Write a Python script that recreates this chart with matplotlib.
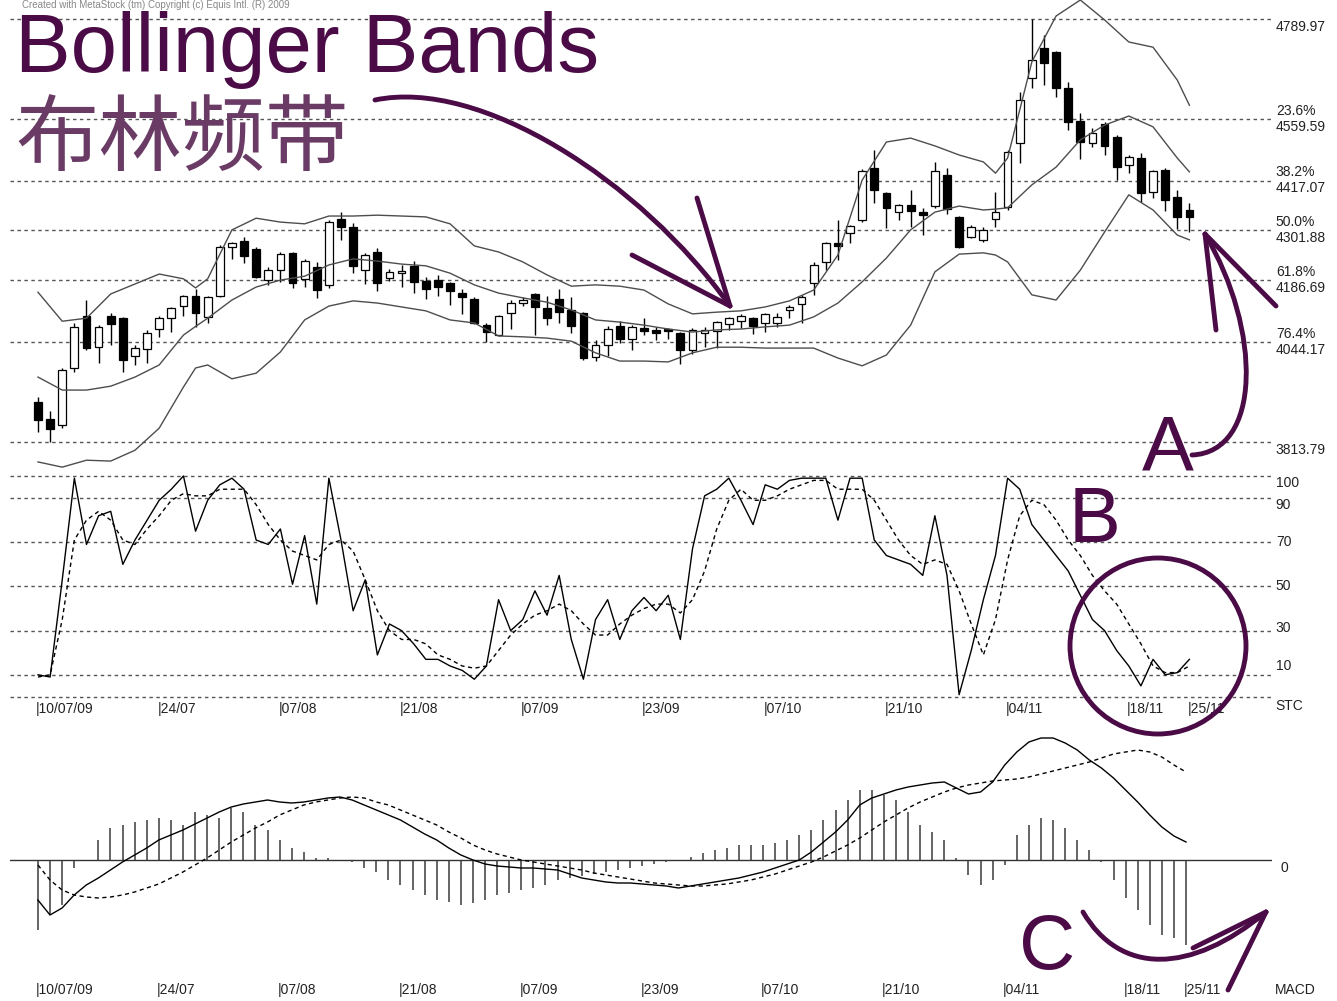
import numpy as np
import matplotlib
matplotlib.use("Agg")
from matplotlib import pyplot as plt
from matplotlib.path import Path
from matplotlib.patches import PathPatch, Circle

# ---- daily candles, 10/07/09 .. 26/11/09 (index points) ----
opens = [3905, 3866, 3852, 3984, 4104, 4033, 4104, 4099, 4012, 4028,
         4074, 4099, 4127, 4150, 4102, 4150, 4263, 4277, 4259, 4187,
         4210, 4250, 4190, 4217, 4176, 4328, 4310, 4210, 4252, 4192,
         4203, 4220, 4185, 4187, 4180, 4157, 4143, 4083, 4060, 4111,
         4134, 4155, 4122, 4143, 4118, 4111, 4009, 4037, 4081, 4051,
         4076, 4072, 4074, 4065, 4026, 4065, 4069, 4086, 4092, 4099,
         4088, 4088, 4118, 4132, 4180, 4229, 4273, 4296, 4326, 4446,
         4388, 4344, 4360, 4344, 4358, 4430, 4333, 4287, 4280, 4328,
         4356, 4504, 4654, 4723, 4714, 4631, 4555, 4504, 4548, 4518,
         4452, 4469, 4390, 4441, 4379, 4349]
highs = [3917, 3885, 3984, 4088, 4141, 4083, 4111, 4102, 4037, 4072,
         4104, 4125, 4153, 4166, 4150, 4268, 4275, 4286, 4263, 4217,
         4252, 4252, 4236, 4229, 4326, 4344, 4319, 4250, 4261, 4213,
         4222, 4231, 4194, 4199, 4182, 4166, 4148, 4088, 4106, 4141,
         4148, 4157, 4150, 4166, 4148, 4113, 4049, 4081, 4092, 4083,
         4099, 4079, 4076, 4067, 4076, 4079, 4092, 4102, 4109, 4102,
         4111, 4111, 4129, 4153, 4229, 4275, 4326, 4314, 4444, 4488,
         4390, 4363, 4395, 4354, 4460, 4446, 4335, 4314, 4310, 4390,
         4488, 4621, 4790, 4753, 4716, 4645, 4573, 4538, 4552, 4522,
         4476, 4480, 4441, 4446, 4395, 4365]
lows = [3836, 3813, 3845, 3975, 4026, 3995, 4037, 3975, 3991, 3995,
        4056, 4067, 4104, 4079, 4088, 4148, 4235, 4226, 4192, 4176,
        4183, 4169, 4171, 4146, 4169, 4280, 4203, 4178, 4162, 4185,
        4171, 4157, 4143, 4150, 4129, 4109, 4086, 4044, 4058, 4074,
        4127, 4060, 4083, 4088, 4065, 4003, 4000, 4012, 4042, 4026,
        4060, 4049, 4051, 3993, 4016, 4032, 4030, 4072, 4076, 4063,
        4067, 4079, 4099, 4088, 4153, 4210, 4233, 4273, 4321, 4365,
        4307, 4326, 4310, 4291, 4354, 4340, 4261, 4284, 4275, 4310,
        4349, 4458, 4631, 4638, 4610, 4534, 4466, 4495, 4476, 4418,
        4434, 4367, 4377, 4347, 4305, 4298]
closes = [3864, 3843, 3979, 4079, 4030, 4079, 4086, 4003, 4030, 4065,
          4099, 4122, 4150, 4111, 4148, 4263, 4273, 4243, 4194, 4210,
          4247, 4180, 4231, 4164, 4321, 4310, 4220, 4245, 4180, 4206,
          4208, 4183, 4166, 4171, 4162, 4148, 4088, 4067, 4104, 4134,
          4141, 4125, 4099, 4113, 4081, 4007, 4037, 4074, 4051, 4079,
          4069, 4065, 4069, 4026, 4072, 4072, 4090, 4099, 4104, 4081,
          4109, 4102, 4125, 4148, 4222, 4273, 4266, 4312, 4439, 4395,
          4354, 4360, 4347, 4337, 4439, 4351, 4263, 4310, 4303, 4344,
          4483, 4603, 4695, 4688, 4631, 4552, 4506, 4527, 4497, 4448,
          4471, 4388, 4439, 4372, 4333, 4333]

# ---- Bollinger bands read at these candle indices ----
band_idx = [0, 2, 4, 6, 8, 10, 12, 13, 14, 16, 18, 20, 22, 24, 26, 28, 30,
            32, 34, 36, 38, 40, 42, 44, 46, 48, 50, 52, 54, 56, 58, 60, 62,
            64, 66, 68, 70, 72, 74, 76, 78, 79, 80, 82, 84, 86, 88, 90, 92,
            94, 95]
band_upper = [4159, 4092, 4099, 4155, 4178, 4201, 4190, 4169, 4190, 4303,
              4330, 4321, 4317, 4335, 4335, 4337, 4335, 4333, 4317, 4266,
              4252, 4229, 4199, 4173, 4176, 4173, 4164, 4132, 4109, 4113,
              4116, 4125, 4139, 4164, 4245, 4418, 4506, 4515, 4497, 4476,
              4460, 4434, 4469, 4691, 4797, 4834, 4788, 4737, 4725, 4649,
              4591]
band_mid = [3963, 3933, 3933, 3942, 3963, 3991, 4060, 4080, 4099, 4141,
            4171, 4187, 4196, 4222, 4236, 4231, 4224, 4220, 4203, 4176,
            4157, 4146, 4136, 4118, 4095, 4090, 4083, 4074, 4067, 4072,
            4074, 4079, 4083, 4102, 4134, 4183, 4238, 4303, 4344, 4358,
            4349, 4351, 4354, 4407, 4448, 4511, 4545, 4566, 4541, 4469,
            4437]
band_lower = [3767, 3755, 3771, 3769, 3794, 3845, 3940, 3984, 3991, 3959,
              3972, 4021, 4095, 4127, 4139, 4134, 4125, 4116, 4095, 4088,
              4058, 4056, 4053, 4046, 4019, 4000, 4000, 3998, 4019, 4032,
              4032, 4030, 4030, 4030, 4007, 3989, 4014, 4083, 4206, 4247,
              4250, 4245, 4229, 4153, 4141, 4210, 4298, 4384, 4349, 4291,
              4280]

# ---- Fibonacci retracement levels (high 4789.97, low 3813.79) ----
fib_pct = ["", "23.6%", "38.2%", "50.0%", "61.8%", "76.4%", ""]
fib_val = [4789.97, 4559.59, 4417.07, 4301.88, 4186.69, 4044.17, 3813.79]

# ---- Stochastic (STC) ----
stc_k = [10, 9, 53, 99, 69, 82, 84, 60, 71, 80, 89, 94, 100, 75, 89, 96,
         99, 94, 71, 69, 76, 51, 73, 42, 99, 71, 39, 53, 19, 33, 30, 24,
         17, 17, 14, 12, 8, 14, 44, 30, 35, 48, 37, 55, 26, 8, 35, 44, 26,
         39, 45, 39, 46, 26, 67, 91, 94, 99, 89, 78, 96, 94, 98, 99, 99,
         99, 80, 99, 99, 71, 64, 62, 60, 55, 82, 55, 1, 21, 44, 64, 99, 94,
         78, 71, 64, 57, 46, 35, 30, 21, 14, 5, 17, 10, 11, 17]
stc_d = [9, 10, 35, 71, 80, 84, 80, 71, 69, 76, 82, 89, 92, 91, 91, 94,
         94, 94, 87, 78, 71, 66, 64, 62, 69, 71, 66, 53, 39, 30, 26, 26,
         24, 19, 17, 14, 13, 14, 21, 28, 33, 37, 39, 42, 39, 33, 28, 28,
         33, 37, 40, 42, 42, 38, 44, 57, 76, 89, 94, 89, 89, 91, 94, 96,
         98, 98, 94, 94, 94, 89, 80, 71, 64, 60, 62, 60, 48, 33, 19, 35,
         62, 82, 89, 87, 80, 71, 64, 55, 48, 42, 33, 24, 14, 11, 11, 14]
stc_ticks = [100, 90, 70, 50, 30, 10]

# ---- MACD ----
macd = [-40, -55, -48, -35, -25, -18, -10, -2, 5, 12, 20, 25, 30, 36, 42,
        48, 53, 56, 58, 60, 58, 57, 58, 60, 62, 63, 60, 55, 50, 45, 40, 33,
        26, 20, 12, 5, 0, -4, -6, -7, -8, -8, -9, -10, -14, -18, -20, -22,
        -23, -23, -24, -25, -26, -28, -26, -24, -22, -20, -18, -15, -12, -8,
        -4, 0, 8, 18, 28, 40, 55, 62, 66, 70, 73, 75, 77, 78, 72, 66, 68,
        78, 95, 108, 118, 122, 122, 117, 110, 100, 92, 82, 70, 58, 45, 33,
        24, 18]
macd_sig = [-5, -20, -30, -35, -37, -38, -37, -35, -32, -28, -24, -18, -12,
            -5, 2, 10, 18, 25, 32, 38, 45, 50, 55, 58, 60, 62, 63, 62, 58, 55,
            50, 45, 40, 35, 28, 22, 15, 10, 6, 3, 0, -2, -4, -6, -8, -10, -13,
            -15, -17, -19, -21, -23, -24, -25, -26, -26, -25, -24, -22, -20,
            -17, -14, -10, -6, -2, 3, 9, 15, 22, 30, 38, 45, 52, 58, 63, 68,
            72, 75, 77, 79, 80, 81, 83, 86, 89, 92, 95, 98, 102, 106, 108,
            110, 108, 103, 95, 88]
macd_hist = [-70, -55, -45, -8, 0, 20, 32, 35, 38, 40, 42, 40, 35, 48, 45,
             42, 52, 48, 35, 30, 20, 12, 8, 2, 2, 0, -2, -8, -12, -20, -25,
             -30, -35, -40, -42, -45, -43, -40, -35, -33, -30, -28, -25, -20,
             -18, -16, -14, -12, -10, -8, -6, -4, -2, 0, 3, 7, 10, 12, 15, 15,
             15, 17, 20, 25, 30, 40, 50, 60, 70, 70, 65, 60, 48, 35, 28, 20,
             2, -15, -25, -20, -5, 25, 35, 42, 40, 32, 20, 10, -2, -20, -38,
             -50, -65, -75, -78, -85]

date_idx = [0, 10, 20, 30, 40, 50, 60, 70, 80, 90, 95]
date_lbl = ["10/07/09", "24/07", "07/08", "21/08", "07/09", "23/09",
            "07/10", "21/10", "04/11", "18/11", "25/11"]

W, H = 1337, 1001
fig = plt.figure(figsize=(W / 100, H / 100), dpi=100)
fig.patch.set_facecolor("white")

small = dict(family=["Liberation Sans Narrow", "Liberation Sans", "DejaVu Sans"],
             fontsize=10, color="#222222")
grid_kw = dict(color="#555555", lw=1.0, ls=(0, (2.5, 2.5)))
purple = "#4a0b46"

x0_px, x1_px = 10, 1272
step = 12.12
xl = ((x0_px - 38) / step, (x1_px - 38) / step)


def axes_px(top, bottom):
    return fig.add_axes([x0_px / W, 1 - bottom / H, (x1_px - x0_px) / W,
                         (bottom - top) / H])


def clean(ax):
    for s in ax.spines.values():
        s.set_visible(False)
    ax.set_xticks([])
    ax.set_yticks([])
    ax.set_facecolor("none")
    ax.set_xlim(*xl)


n = len(closes)
xs = np.arange(n)

# ---------- price panel ----------
ax1 = axes_px(0, 468)
clean(ax1)
ax1.set_ylim(3753, 4834)
for v in fib_val:
    ax1.axhline(v, **grid_kw, zorder=0)
ax1.vlines(xs, lows, highs, color="black", lw=1.0, zorder=2)
o = np.array(opens, float)
c = np.array(closes, float)
body = c - o
tiny = np.abs(body) < 2
body[tiny] = np.where(body[tiny] >= 0, 2, -2)
cols = ["white" if cc >= oo else "black" for oo, cc in zip(o, c)]
ax1.bar(xs, body, bottom=o, width=0.64, color=cols, edgecolor="black",
        lw=0.9, zorder=3)
for band in (band_upper, band_mid, band_lower):
    ax1.plot(band_idx, band, color="#4d4d4d", lw=1.0, zorder=4)
ytr = ax1.get_yaxis_transform()
for p, v in zip(fib_pct, fib_val):
    if p:
        ax1.text(1.003, v + 3, p, transform=ytr, va="bottom", ha="left", **small)
    ax1.text(1.003, v - 2, f"{v:.2f}", transform=ytr, va="top", ha="left", **small)

# ---------- STC panel ----------
ax2 = axes_px(470, 700)
clean(ax2)
ax2.set_ylim(-1.4, 102.7)
for v in stc_ticks + [0]:
    ax2.axhline(v, **grid_kw, zorder=0)
ax2.plot(xs, stc_k, color="black", lw=1.0)
ax2.plot(xs, stc_d, color="black", lw=1.0, ls=(0, (3, 2.5)))
ytr2 = ax2.get_yaxis_transform()
stc_off = [-3, -3, 0, 0, 1, 4]
for v, d in zip(stc_ticks, stc_off):
    ax2.text(1.003, v + d, str(v), transform=ytr2, va="center", ha="left", **small)
ax2.text(1.003, -4, "STC", transform=ytr2, va="center", ha="left", **small)
xtr2 = ax2.get_xaxis_transform()
for i, lb in zip(date_idx, date_lbl):
    ax2.text(i - 0.15, -0.04, "|" + lb, transform=xtr2, va="center", ha="left", **small)

# ---------- MACD panel ----------
ax3 = axes_px(715, 975)
clean(ax3)
ax3.set_ylim(-115, 145)
ax3.axhline(0, color="#333333", lw=1.0, zorder=0)
ax3.set_xlim(xl[0], xl[1] + 0.3)
ax3.vlines(xs, 0, macd_hist, color="#3a3a3a", lw=1.1)
ax3.plot(xs, macd, color="black", lw=1.0)
ax3.plot(xs, macd_sig, color="black", lw=1.0, ls=(0, (3, 2.5)))
ax3.text(1.007, -8, "0", transform=ax3.get_yaxis_transform(), va="center",
         ha="left", **small)
xtr3 = ax3.get_xaxis_transform()
for i, lb in zip(date_idx, date_lbl):
    ax3.text(i - 0.15, -0.058, "|" + lb, transform=xtr3, va="center", ha="left", **small)
ax3.text(1.002, -0.058, "MACD", transform=ax3.transAxes, va="center", ha="left", **small)

# ---------- annotations (pixel overlay) ----------
ov = fig.add_axes([0, 0, 1, 1])
ov.set_xlim(0, W)
ov.set_ylim(H, 0)
ov.axis("off")
ov.set_zorder(10)
ov.patch.set_alpha(0)

ov.text(22, 5, "Created with MetaStock (tm) Copyright (c) Equis Intl. (R) 2009",
        va="center", ha="left", color="#888888", fontsize=7,
        family=["Liberation Sans", "DejaVu Sans"])
ov.text(15, 50, "Bollinger Bands", color=purple, fontsize=60, va="center",
        ha="left", family=["Liberation Sans", "DejaVu Sans"])
ov.text(15, 140, "布林频带", color="#6a3b65", fontsize=60, va="center",
        ha="left", family=["Noto Sans CJK SC", "DejaVu Sans"], fontweight="light")
for ch, x, y in (("A", 1168, 450), ("B", 1095, 522), ("C", 1047, 948)):
    ov.text(x, y, ch, color=purple, fontsize=56, va="center", ha="center",
            family=["Liberation Sans", "DejaVu Sans"])


def curve(pts, lw=3.5):
    codes = [Path.MOVETO] + [Path.CURVE4] * 3
    ov.add_patch(PathPatch(Path(pts, codes), fc="none", ec=purple, lw=lw,
                           capstyle="round"))


def head(tip, ends, lw=3.5):
    for e in ends:
        ov.plot([tip[0], e[0]], [tip[1], e[1]], color=purple, lw=lw,
                solid_capstyle="round")


curve([(375, 100), (480, 78), (640, 180), (730, 306)])
head((730, 306), [(632, 255), (697, 198)])
curve([(1192, 455), (1262, 452), (1262, 330), (1205, 234)])
head((1205, 234), [(1216, 330), (1276, 306)])
curve([(1083, 912), (1120, 975), (1190, 975), (1266, 912)])
head((1266, 912), [(1193, 948), (1228, 990)])
ov.add_patch(Circle((1158, 646), 88, fc="none", ec=purple, lw=3.5))

fig.savefig("out.png", dpi=100, facecolor="white")
